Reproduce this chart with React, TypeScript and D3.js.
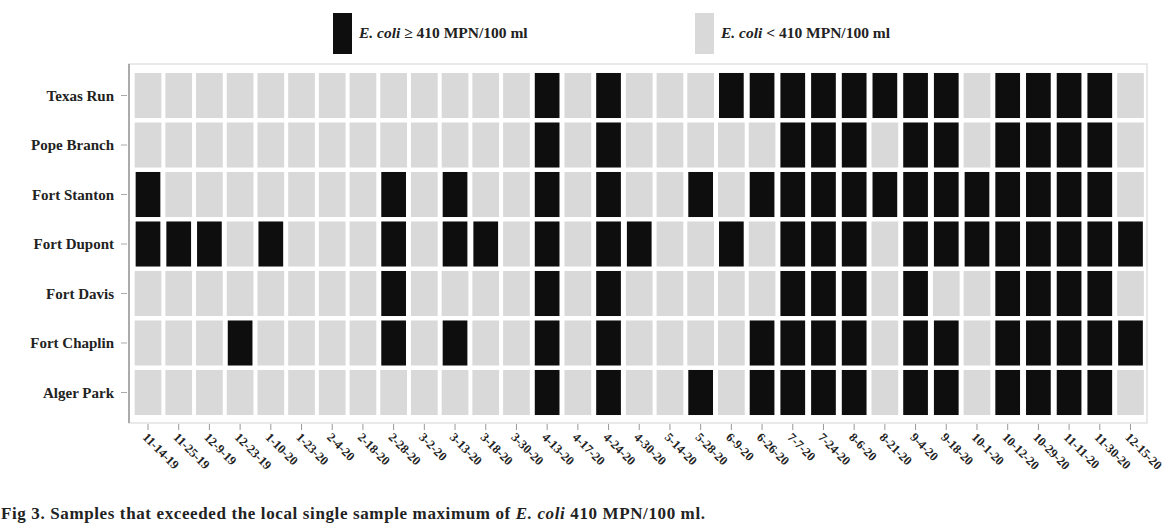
import React from "react";
import * as d3 from "d3";

const dates = [
  "11-14-19", "11-25-19", "12-9-19", "12-23-19", "1-10-20", "1-23-20", "2-4-20", "2-18-20",
  "2-28-20", "3-2-20", "3-13-20", "3-18-20", "3-30-20", "4-13-20", "4-17-20", "4-24-20",
  "4-30-20", "5-14-20", "5-28-20", "6-9-20", "6-26-20", "7-7-20", "7-24-20", "8-6-20",
  "8-21-20", "9-4-20", "9-18-20", "10-1-20", "10-12-20", "10-29-20", "11-11-20", "11-30-20",
  "12-15-20",
];

const sites = ["Texas Run", "Pope Branch", "Fort Stanton", "Fort Dupont", "Fort Davis", "Fort Chaplin", "Alger Park"];

// 1 = E. coli >= 410 MPN/100 ml, 0 = below
const texasRun    = [0,0,0,0,0,0,0,0,0,0,0,0,0, 1,0,1,0,0,0,1,1,1,1,1,1,1,1,0,1,1,1,1,0];
const popeBranch  = [0,0,0,0,0,0,0,0,0,0,0,0,0, 1,0,1,0,0,0,0,0,1,1,1,0,1,1,0,1,1,1,1,0];
const fortStanton = [1,0,0,0,0,0,0,0,1,0,1,0,0, 1,0,1,0,0,1,0,1,1,1,1,1,1,1,1,1,1,1,1,0];
const fortDupont  = [1,1,1,0,1,0,0,0,1,0,1,1,0, 1,0,1,1,0,0,1,0,1,1,1,0,1,1,1,1,1,1,1,1];
const fortDavis   = [0,0,0,0,0,0,0,0,1,0,0,0,0, 1,0,1,0,0,0,0,0,1,1,1,0,1,0,0,1,1,1,1,0];
const fortChaplin = [0,0,0,1,0,0,0,0,1,0,1,0,0, 1,0,1,0,0,0,0,1,1,1,1,0,1,1,0,1,1,1,1,1];
const algerPark   = [0,0,0,0,0,0,0,0,0,0,0,0,0, 1,0,1,0,0,1,0,1,1,1,1,0,1,1,0,1,1,1,1,0];

const siteValues = [texasRun, popeBranch, fortStanton, fortDupont, fortDavis, fortChaplin, algerPark];

const legendLabels = ["\u2265 410 MPN/100 ml", "< 410 MPN/100 ml"];

const W = 1171;
const H = 525;
const DARK = "#0e0e0e";
const LIGHT = "#d9d9d9";
const SERIF = "'Liberation Serif', 'DejaVu Serif', serif";

export default function App() {
  const x = d3.scaleBand<string>().domain(dates).range([132.5, 1146]).paddingInner(0.13).paddingOuter(0.07);
  const y = d3.scaleBand<string>().domain(sites).range([71, 417]).paddingInner(0.09).paddingOuter(0.04);
  const color = d3.scaleOrdinal<number, string>().domain([1, 0]).range([DARK, LIGHT]);

  const cells = sites.flatMap((s, si) =>
    dates.map((d, di) => ({ s, d, v: siteValues[si][di] }))
  );

  const legendX = [333, 695];

  return (
    <svg width={W} height={H} style={{ position: "absolute", left: 0, top: 0, background: "#fff" }}>
      {/* legend */}
      {legendLabels.map((lab, i) => (
        <g key={lab}>
          <rect x={legendX[i]} y={13} width={19} height={41} fill={color(i === 0 ? 1 : 0)} />
          <text x={legendX[i] + 26} y={38} fontFamily={SERIF} fontSize={15.5} fontWeight="bold" fill="#222">
            <tspan fontStyle="italic">E. coli</tspan> {lab}
          </text>
        </g>
      ))}

      {/* frame */}
      <rect x={129} y={64} width={1018} height={359} fill="none" stroke="#e2e2e2" strokeWidth={1.5} />
      <line x1={129} x2={129} y1={64} y2={423} stroke="#8a8a8a" strokeWidth={1.3} />

      {/* cells */}
      {cells.map((c) => {
        const inset = c.v === 1 ? 1 : 0;
        return (
          <rect
            key={c.s + c.d}
            x={(x(c.d) as number) + inset}
            y={y(c.s)}
            width={x.bandwidth() - 2 * inset}
            height={y.bandwidth()}
            fill={color(c.v)}
          />
        );
      })}

      {/* y axis labels */}
      {sites.map((s) => {
        const cy = (y(s) as number) + y.bandwidth() / 2;
        return (
          <g key={s}>
            <line x1={121} x2={127} y1={cy} y2={cy} stroke="#aaa" />
            <text
              x={114}
              y={cy}
              dy="0.35em"
              textAnchor="end"
              fontFamily={SERIF}
              fontSize={15}
              fontWeight="bold"
              fill="#222"
            >
              {s}
            </text>
          </g>
        );
      })}

      {/* x axis labels */}
      {dates.map((d) => {
        const cx = (x(d) as number) + x.bandwidth() / 2;
        return (
          <g key={d}>
            <line x1={cx} x2={cx} y1={424} y2={430} stroke="#999" />
            <text
              transform={`translate(${cx - 6},${438}) rotate(45)`}
              fontFamily={SERIF}
              fontSize={12.5}
              fontWeight="bold"
              fill="#222"
            >
              {d}
            </text>
          </g>
        );
      })}

      {/* caption */}
      <text x={1} y={519} fontFamily={SERIF} fontSize={17} fontWeight="bold" fill="#222" textLength={704} lengthAdjust="spacing">
        Fig 3. Samples that exceeded the local single sample maximum of <tspan fontStyle="italic">E. coli</tspan> 410 MPN/100 ml.
      </text>
    </svg>
  );
}
